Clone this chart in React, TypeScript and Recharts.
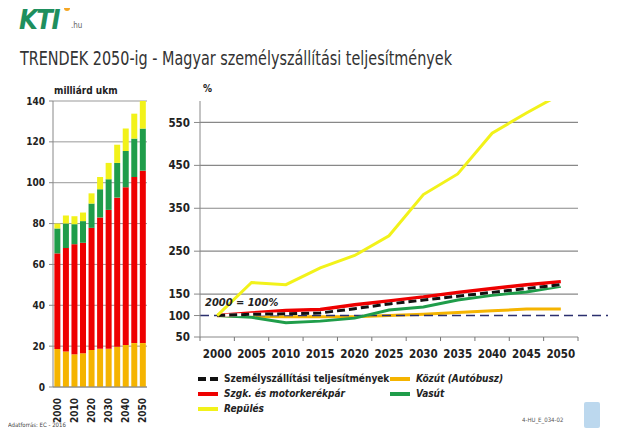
import { BarChart, Bar, LineChart, Line, XAxis, YAxis, CartesianGrid, ReferenceLine } from 'recharts';

const F = '"DejaVu Sans Condensed", "DejaVu Sans", sans-serif';

// evek (kategoriak)
const years = ['2000', '2005', '2010', '2015', '2020', '2025', '2030', '2035', '2040', '2045', '2050'];

// milliard utaskm - bal oldali oszlopok
const busKm = [18.6, 17.4, 16.0, 16.5, 18.1, 18.7, 18.7, 19.7, 20.5, 21.5, 21.5];
const carKm = [46.8, 50.7, 53.9, 54.1, 59.8, 64.3, 68.0, 73.0, 77.3, 81.3, 84.4];
const railKm = [12.2, 11.9, 9.8, 10.6, 11.9, 13.8, 15.0, 17.0, 17.7, 18.8, 20.6];
const airKm = [2.4, 4.0, 3.9, 4.2, 5.0, 6.0, 8.0, 8.9, 11.0, 12.2, 13.5];

// index, 2000 = 100% - jobb oldali vonalak
const totalIdx = [100, 103, 104, 106, 116, 127, 136, 145, 154, 163, 172];
const carIdx = [100, 106, 112, 114, 125, 134, 143, 154, 163, 172, 179];
const railIdx = [100, 96, 83, 87, 94, 113, 120, 136, 147, 155, 168];
const busIdx = [100, 98, 97, 97, 97, 100, 103, 107, 111, 115, 115];
const airIdx = [100, 177, 172, 211, 240, 286, 382, 430, 525, 572, 616];

const kmTicks = [0, 20, 40, 60, 80, 100, 120, 140];
const idxTicks = [50, 100, 150, 250, 350, 450, 550];
const gridIdx = [150, 250, 350, 450, 550];

const C = { bus: '#f5b400', car: '#ee0000', rail: '#1f9d4a', air: '#f2f21a', total: '#111' };

const barData = years.map((y, i) => ({ year: y, bus: busKm[i], car: carKm[i], rail: railKm[i], air: airKm[i] }));
const lineData = years.map((y, i) => ({ year: y, total: totalIdx[i], car: carIdx[i], rail: railIdx[i], bus: busIdx[i], air: airIdx[i] }));

const LINE_W = 378;
const BW = LINE_W / years.length;

const BarYearTick = ({ x, y, payload }: any) => (
  <text transform={`translate(${x + 3.5},${y + 3}) rotate(-90)`} textAnchor="end" fontSize={10} fontWeight="bold" fill="#222" fontFamily={F}>
    {payload.value}
  </text>
);

const LineYearTick = ({ x, y, payload, index }: any) => (
  <g>
    <line x1={x - BW / 2} x2={x - BW / 2} y1={y} y2={y + 4} stroke="#777" />
    {index === years.length - 1 && <line x1={x + BW / 2} x2={x + BW / 2} y1={y} y2={y + 4} stroke="#777" />}
    <text x={x} y={y + 21} textAnchor="middle" fontSize={11.5} fontWeight="bold" fill="#222" fontFamily={F}>
      {payload.value}
    </text>
  </g>
);

const LegendItem = ({ color, label, dashed, italic, x, y }: any) => (
  <div style={{ position: 'absolute', left: x, top: y, display: 'flex', alignItems: 'center', whiteSpace: 'nowrap' }}>
    <svg width={22} height={6}>
      <line x1={1} x2={21} y1={3} y2={3} stroke={color} strokeWidth={4} strokeDasharray={dashed ? '8 4' : undefined} />
    </svg>
    <span style={{ marginLeft: 5, fontSize: 10, fontWeight: 'bold', fontStyle: italic ? 'italic' : 'normal', color: '#222' }}>{label}</span>
  </div>
);

export default function App() {
  return (
    <div style={{ position: 'relative', width: 618, height: 438, margin: -8, background: '#fff', overflow: 'hidden', fontFamily: F }}>
      {/* logo */}
      <svg style={{ position: 'absolute', left: 0, top: 0 }} width={120} height={40}>
        <text x={19} y={29} fontSize={27} fontWeight="bold" fontStyle="italic" fill="#1e8f5e" fontFamily={F} letterSpacing={-1.5}>KTI</text>
        <circle cx={67} cy={8} r={3} fill="#f5a623" />
        <text x={71} y={28} fontSize={8} fill="#666" fontFamily={F}>.hu</text>
      </svg>
      <svg style={{ position: 'absolute', left: 0, top: 40 }} width={618} height={30}>
        <text x={20} y={25} fontSize={19} fill="#333" fontFamily={'"Liberation Sans Narrow", ' + F} textLength={432} lengthAdjust="spacingAndGlyphs">
          TRENDEK 2050-ig - Magyar személyszállítási teljesítmények
        </text>
      </svg>

      <div style={{ position: 'absolute', left: 54, top: 85, fontSize: 10, fontWeight: 'bold', color: '#222' }}>milliárd ukm</div>

      <div style={{ position: 'absolute', left: 0, top: 0 }}>
        <BarChart width={170} height={430} data={barData} margin={{ top: 101, right: 23, bottom: 0, left: 0 }} barCategoryGap="16%">
          <CartesianGrid vertical={false} stroke="#999" />
          <XAxis dataKey="year" height={43} interval={1} tick={<BarYearTick />} tickLine={false} axisLine={{ stroke: '#888' }} />
          <YAxis width={53} domain={[0, 140]} ticks={kmTicks} tickSize={4} tickMargin={4}
            tick={{ fontSize: 10, fontWeight: 'bold', fill: '#222', fontFamily: F }} axisLine={{ stroke: '#888' }} tickLine={{ stroke: '#888' }} />
          <Bar dataKey="bus" stackId="a" fill={C.bus} isAnimationActive={false} />
          <Bar dataKey="car" stackId="a" fill={C.car} isAnimationActive={false} />
          <Bar dataKey="rail" stackId="a" fill={C.rail} isAnimationActive={false} />
          <Bar dataKey="air" stackId="a" fill={C.air} isAnimationActive={false} />
        </BarChart>
      </div>

      <div style={{ position: 'absolute', left: 203, top: 83, fontSize: 10, fontWeight: 'bold', color: '#222' }}>%</div>

      <div style={{ position: 'absolute', left: 150, top: 0 }}>
        <LineChart width={468} height={360} data={lineData} margin={{ top: 101, right: 40, bottom: 0, left: 0 }}>
          {gridIdx.map((v) => (
            <ReferenceLine key={v} y={v} stroke="#888" strokeWidth={1.2} />
          ))}
          <XAxis dataKey="year" height={23} padding={{ left: BW / 2, right: BW / 2 }} tickSize={0} tickMargin={0}
            tick={<LineYearTick />} tickLine={false} axisLine={{ stroke: '#888' }} interval={0} />
          <YAxis width={50} domain={[50, 600]} ticks={idxTicks} allowDataOverflow tickSize={6} tickMargin={4}
            tick={{ fontSize: 11.5, fontWeight: 'bold', fill: '#222', fontFamily: F }} axisLine={{ stroke: '#888' }} tickLine={{ stroke: '#888' }} />
          <Line dataKey="bus" stroke={C.bus} strokeWidth={3} dot={false} isAnimationActive={false} />
          <ReferenceLine y={100} stroke="#2b2f6e" strokeWidth={1.5} strokeDasharray="9 5"
            shape={(p: any) => <line x1={p.x1} y1={p.y1} x2={p.x2 + 30} y2={p.y2} stroke="#2b2f6e" strokeWidth={1.5} strokeDasharray="9 5" />} />
          <Line dataKey="rail" stroke={C.rail} strokeWidth={3} dot={false} isAnimationActive={false} />
          <Line dataKey="car" stroke={C.car} strokeWidth={3.5} dot={false} isAnimationActive={false} />
          <Line dataKey="total" stroke="#fff" strokeWidth={3} dot={false} isAnimationActive={false} />
          <Line dataKey="total" stroke={C.total} strokeWidth={3} strokeDasharray="8 4" dot={false} isAnimationActive={false} />
          <Line dataKey="air" stroke={C.air} strokeWidth={3} dot={false} isAnimationActive={false} />
        </LineChart>
      </div>

      <div style={{ position: 'absolute', left: 205, top: 296, fontSize: 11, fontWeight: 'bold', fontStyle: 'italic', color: '#222' }}>2000 = 100%</div>

      <LegendItem x={197} y={373} color={C.total} dashed label="Személyszállítási teljesítmények" />
      <LegendItem x={389} y={373} color={C.bus} italic label="Közút (Autóbusz)" />
      <LegendItem x={197} y={388} color={C.car} italic label="Szgk. és motorkerékpár" />
      <LegendItem x={389} y={388} color={C.rail} italic label="Vasút" />
      <LegendItem x={197} y={403} color={C.air} italic label="Repülés" />

      <div style={{ position: 'absolute', left: 8, top: 421, fontSize: 6, color: '#444' }}>Adatforrás: EC - 2016</div>
      <div style={{ position: 'absolute', left: 522, top: 416, fontSize: 6, color: '#555' }}>4-HU_E_034-02</div>
      <div style={{ position: 'absolute', left: 584, top: 402, width: 16, height: 26, background: '#bcd8ee', borderRadius: 2 }} />
    </div>
  );
}
